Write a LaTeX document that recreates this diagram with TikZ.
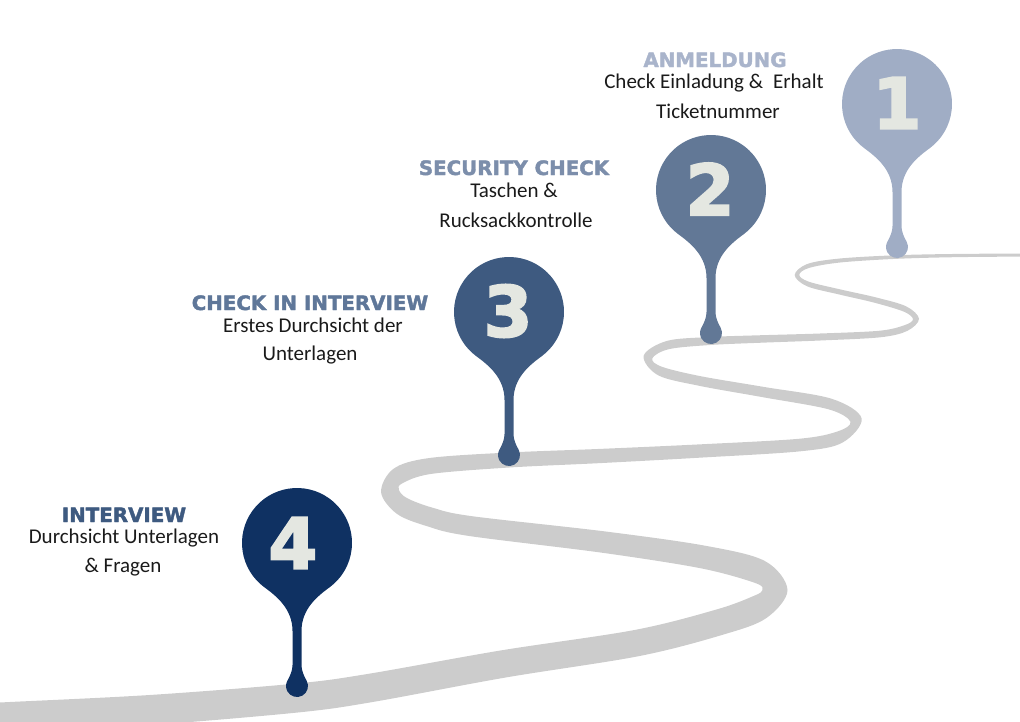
\documentclass[tikz,border=0pt]{standalone}
\usepackage{fontspec}
\setmainfont{Carlito}
\newfontfamily\headfont[FakeBold=2]{DejaVu Sans Bold}
\newfontfamily\numfont[FakeBold=3]{DejaVu Sans Bold}
\usetikzlibrary{calc}
\definecolor{roadcol}{HTML}{CCCCCC}
\definecolor{pinA}{HTML}{A0ADC5}
\definecolor{pinB}{HTML}{627896}
\definecolor{pinC}{HTML}{3E5A80}
\definecolor{pinD}{HTML}{0F3162}
\definecolor{numcol}{HTML}{E4E7E1}
\definecolor{headA}{HTML}{A9B4CB}
\definecolor{headB}{HTML}{7C8EAB}
\definecolor{headC}{HTML}{5F7799}
\definecolor{headD}{HTML}{3E5A80}
\definecolor{bodycol}{HTML}{1A1A1A}
\begin{document}
\begin{tikzpicture}[x=1pt,y=-1pt,
  head/.style={anchor=base, inner sep=0pt, font=\headfont\fontsize{19.8}{22}\selectfont},
  body/.style={anchor=base, inner sep=0pt, text=bodycol, font=\fontsize{21}{24}\selectfont},
  num/.style={inner sep=0pt, text=numcol, font=\numfont\fontsize{70}{74}\selectfont},
  droppin/.pic={
    \fill[#1] (-4.5,122) -- (-4.5,88) .. controls (-4.5,66) and (-20.3,53.3) .. (126:55)
      arc[start angle=126,end angle=414,radius=55]
      .. controls (20.3,53.3) and (4.5,66) .. (4.5,88) -- (4.5,122)
      .. controls (4.5,127) and (6.5,132.3) .. (9.53,137.5)
      arc[start angle=-30,end angle=210,radius=11]
      .. controls (-6.5,132.3) and (-4.5,127) .. (-4.5,122) -- cycle;
  }]
\useasboundingbox (0,0) rectangle (1020,721);
% road centre line with widths
\foreach \px/\py/\w [count=\i] in {
  1040/255/3, 960/255.5/3.2, 897/257/3.6, 840/260.5/4, 808/266/4.3, 797/275/4.6,
  808/284/4.9, 840/292/5.2, 875/300/5.5, 905/309/5.8, 916/319/6, 906/328/6.3,
  880/334/6.6, 820/337/7, 760/339/7.5, 710/341/8, 668/345/8.5, 648/357/9,
  660/371/9.3, 700/381/9.7, 763/392/10.3, 830/404/11, 856/420/11.7, 840/437/12.2,
  800/445/12.6, 700/451/13.3, 600/456/14.2, 509/460/15, 430/466/16, 398/476/17,
  390/491/18, 402/506/18.7, 430/517/19.3, 470/526/20, 603/542/21.5, 703/557/23,
  760/572/24, 775/590/25, 760/607/25.5, 720/622/26, 637/643/26.5, 503/664/27.5,
  370/688/28.5, 297/698/29, 150/710/30, 0/718/31, -30/720/31}{
  \coordinate (c\i) at (\px,\py);
  \expandafter\xdef\csname rw\i\endcsname{\w}
}
\foreach \i in {1,...,47}{
  \pgfmathtruncatemacro\pv{max(\i-1,1)}
  \pgfmathtruncatemacro\nx{min(\i+1,47)}
  \pgfmathsetmacro\hw{\csname rw\i\endcsname/2}
  \coordinate (t\i) at ($(c\i)+(c\nx)-(c\pv)$);
  \coordinate (L\i) at ($(c\i)!\hw pt!90:(t\i)$);
  \coordinate (R\i) at ($(c\i)!\hw pt!-90:(t\i)$);
}
\begin{scope}
\clip (0,0) rectangle (1020,721);
\fill[roadcol] plot[smooth, tension=0.55, samples at={1,...,47}] (L\x)
  -- plot[smooth, tension=0.55, samples at={47,46,...,1}] (R\x) -- cycle;
\end{scope}
% pins
\pic (p1) at (897,104) {droppin=pinA};
\pic (p2) at (711,190) {droppin=pinB};
\pic (p3) at (509,312) {droppin=pinC};
\pic (p4) at (297,543) {droppin=pinD};
\node[num] (n1) at (897,103) {1};
\node[num] (n2) at (710,189) {2};
\node[num] (n3) at (508,311) {3};
\node[num] (n4) at (293,543) {4};
% texts
\node[head, text=headA] (h1) at (715,67) {ANMELDUNG};
\node[body] (a1) at (714,88) {Check Einladung \&\hspace{0.25em} Erhalt};
\node[body] (a2) at (718,118) {Ticketnummer};
\node[head, text=headB] (h2) at (514,175) {SECURITY CHECK};
\node[body] (b1) at (514,197) {Taschen \&};
\node[body] (b2) at (516,227) {Rucksackkontrolle};
\node[head, text=headC] (h3) at (310,310) {CHECK IN INTERVIEW};
\node[body] (c1) at (313,332) {Erstes Durchsicht der};
\node[body] (c2) at (310,360) {Unterlagen};
\node[head, text=headD] (h4) at (124,522) {INTERVIEW};
\node[body] (d1) at (124,543) {Durchsicht Unterlagen};
\node[body] (d2) at (123,572) {\& Fragen};
\end{tikzpicture}
\end{document}
